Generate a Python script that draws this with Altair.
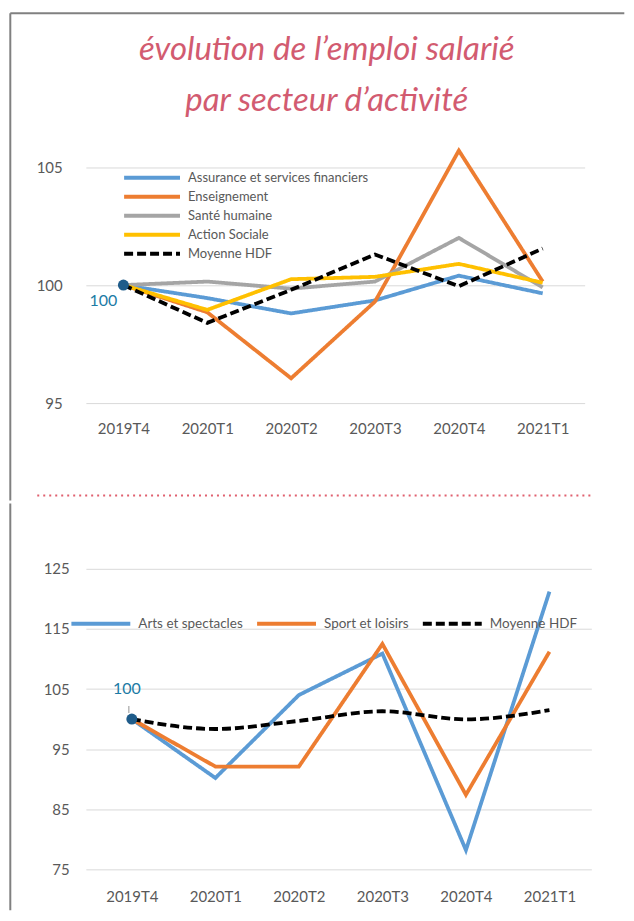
import altair as alt
import pandas as pd

quarters = ["2019T4", "2020T1", "2020T2", "2020T3", "2020T4", "2021T1"]

top_series = ["Assurance et services financiers", "Enseignement", "Santé humaine",
              "Action Sociale", "Moyenne HDF"]
top_colors = ["#5b9bd5", "#ed7d31", "#a5a5a5", "#ffc000", "#000000"]
assurance = [100, 99.45, 98.8, 99.35, 100.4, 99.65]
enseignement = [100, 98.85, 96.05, 99.3, 105.7, 100.15]
sante = [100, 100.15, 99.85, 100.15, 102.0, 99.9]
action_sociale = [100, 98.95, 100.25, 100.35, 100.9, 100.1]
moyenne_top = [100, 98.4, 99.8, 101.3, 99.95, 101.55]

bottom_series = ["Arts et spectacles", "Sport et loisirs", "Moyenne HDF"]
bottom_colors = ["#5b9bd5", "#ed7d31", "#000000"]
arts = [100, 90.2, 104.0, 110.9, 78.2, 121.2]
sport = [100, 92.1, 92.1, 112.5, 87.4, 111.2]
moyenne_bottom = [100, 98.35, 99.7, 101.3, 99.95, 101.5]

title_lines = ["évolution de l’emploi salarié", "par secteur d’activité"]
base_label = "100"

top_ticks = [95, 100, 105]
bottom_ticks = [75, 85, 95, 105, 115, 125]


def long_df(names, series, field):
    rows = []
    for n, vals in zip(names, series):
        for q, v in zip(quarters, vals):
            rows.append({field: n, "trimestre": q, "indice": v})
    return pd.DataFrame(rows)


top_df = long_df(top_series, [assurance, enseignement, sante, action_sociale, moyenne_top],
                 "secteur")
bottom_df = long_df(bottom_series, [arts, sport, moyenne_bottom], "loisirs")
base_df = pd.DataFrame({"trimestre": [quarters[0]], "indice": [100], "label": [base_label]})
dummy = pd.DataFrame({"k": [0]})
title_df = pd.DataFrame({"t": title_lines, "i": [1, 2]})

AX_FONT = "Lato"
LEG_FONT = "Lato"
GRID = "#d9d9d9"
TXT = "#595959"
BORDER = "#808080"
PINK = "#d25b70"
TEAL = "#1c7ba5"
DOT = "#1f5c8a"

OX = 85.7  # shared page x of both plot origins


def x_enc(pad, padding, align):
    return alt.X("trimestre:N", sort=quarters, title=None,
                 scale=alt.Scale(type="point", domain=quarters, padding=padding,
                                 align=align),
                 axis=alt.Axis(labelAngle=0, domain=False, ticks=False, grid=False,
                               labelPadding=pad, labelFont=AX_FONT, labelFontSize=15,
                               labelColor=TXT))


# ---------- top panel ----------
W1, H1 = 499.6, 260
OY1 = 143.5

top_legend = alt.Legend(title=None, orient="none", legendX=36.3, legendY=25,
                        direction="vertical", symbolType="stroke", symbolSize=3136,
                        symbolStrokeWidth=4, clipHeight=18.75, rowPadding=0,
                        labelFont=LEG_FONT, labelFontSize=13, labelColor=TXT,
                        labelOffset=6, labelLimit=400)

top_lines = alt.Chart(top_df).mark_line(strokeWidth=3.8).encode(
    x=x_enc(18, 0.474, 0.472),
    y=alt.Y("indice:Q", title=None,
            scale=alt.Scale(domain=[95, 106], nice=False, zero=False),
            axis=alt.Axis(values=top_ticks, domain=False, ticks=False, gridColor=GRID,
                          labelPadding=23.7, labelFont=AX_FONT, labelFontSize=15,
                          labelColor=TXT)),
    color=alt.Color("secteur:N", scale=alt.Scale(domain=top_series, range=top_colors),
                    legend=top_legend),
    strokeDash=alt.StrokeDash("secteur:N",
                              scale=alt.Scale(domain=top_series,
                                              range=[[1, 0]] * 4 + [[9, 4]]),
                              legend=top_legend),
)

top_point = alt.Chart(base_df).mark_circle(size=121, color=DOT, opacity=1).encode(
    x=alt.X("trimestre:N", sort=quarters), y="indice:Q")
top_label = alt.Chart(base_df).mark_text(dx=-20, dy=16, font=AX_FONT, fontSize=16,
                                         color=TEAL).encode(
    x=alt.X("trimestre:N", sort=quarters), y="indice:Q", text="label:N")

title_marks = alt.Chart(title_df).transform_calculate(
    yy="datum.i == 1 ? -84 : -33").mark_text(
    font="Lato", fontStyle="italic", fontSize=33, color=PINK, align="center",
    baseline="alphabetic").encode(
    x=alt.value(327 - OX), y=alt.Y("yy:Q", scale=None), text="t:N")

border_v1 = alt.Chart(dummy).mark_rule(color=BORDER, strokeWidth=2).encode(
    x=alt.value(10 - OX), y=alt.value(13 - OY1), y2=alt.value(501 - OY1))
border_h = alt.Chart(dummy).mark_rule(color=BORDER, strokeWidth=2).encode(
    x=alt.value(10 - OX), x2=alt.value(625 - OX), y=alt.value(13 - OY1))
separator = alt.Chart(dummy).mark_rule(color="#e0606f", strokeWidth=2,
                                       strokeDash=[2, 4]).encode(
    x=alt.value(37 - OX), x2=alt.value(593 - OX), y=alt.value(496 - OY1))

top = alt.layer(top_lines, top_point, top_label, title_marks, border_v1, border_h,
                separator).properties(width=W1, height=H1)

# ---------- bottom panel ----------
W2, H2 = 506.3, 301
OY2 = 568

bot_legend = alt.Legend(title=None, orient="none", legendX=-16.5, legendY=46,
                        direction="horizontal", symbolType="stroke", symbolSize=3481,
                        symbolStrokeWidth=4, clipHeight=18, columnPadding=12,
                        labelFont=LEG_FONT, labelFontSize=13.5, labelColor=TXT,
                        labelOffset=6, labelLimit=400)

yb = alt.Y("indice:Q", title=None,
           scale=alt.Scale(domain=[75, 125], nice=False, zero=False),
           axis=alt.Axis(values=bottom_ticks, domain=False, ticks=False, gridColor=GRID,
                         labelPadding=16.7, labelFont=AX_FONT, labelFontSize=15,
                         labelColor=TXT))

bot_lines = alt.Chart(bottom_df).transform_filter(
    alt.datum.loisirs != "Moyenne HDF").mark_line(strokeWidth=3.8).encode(
    x=x_enc(20, 0.526, 0.523), y=yb,
    color=alt.Color("loisirs:N", scale=alt.Scale(domain=bottom_series, range=bottom_colors),
                    legend=bot_legend),
    strokeDash=alt.StrokeDash("loisirs:N",
                              scale=alt.Scale(domain=bottom_series,
                                              range=[[1, 0], [1, 0], [9, 4]]),
                              legend=bot_legend),
)
bot_avg = alt.Chart(bottom_df).transform_filter(
    alt.datum.loisirs == "Moyenne HDF").mark_line(strokeWidth=3.8,
                                                  interpolate="monotone").encode(
    x=alt.X("trimestre:N", sort=quarters), y="indice:Q",
    color=alt.Color("loisirs:N"), strokeDash=alt.StrokeDash("loisirs:N"))

bot_point = alt.Chart(base_df).mark_circle(size=121, color=DOT, opacity=1).encode(
    x=alt.X("trimestre:N", sort=quarters), y="indice:Q")
bot_leader = alt.Chart(base_df).mark_rule(color="#a6a6a6", strokeWidth=1.2,
                                          xOffset=-3, yOffset=-13,
                                          y2Offset=-6).encode(
    x=alt.X("trimestre:N", sort=quarters), y="indice:Q", y2="indice:Q")
bot_label = alt.Chart(base_df).mark_text(dx=-5, dy=-30, font=AX_FONT, fontSize=16,
                                         color=TEAL).encode(
    x=alt.X("trimestre:N", sort=quarters), y="indice:Q", text="label:N")

border_v2 = alt.Chart(dummy).mark_rule(color=BORDER, strokeWidth=2).encode(
    x=alt.value(10 - OX), y=alt.value(502.5 - OY2), y2=alt.value(910 - OY2))

bottom = alt.layer(bot_lines, bot_avg, bot_leader, bot_point, bot_label,
                   border_v2).properties(width=W2, height=H2)

chart = alt.vconcat(top, bottom, spacing=0).properties(
    padding={"left": 1, "top": 3, "right": 0, "bottom": 0},
).resolve_scale(
    x="independent", y="independent", color="independent", strokeDash="independent"
).resolve_legend(
    color="independent", strokeDash="independent"
).configure_view(stroke=None)

chart.save("out.html", embed_options={"renderer": "svg", "actions": False})
